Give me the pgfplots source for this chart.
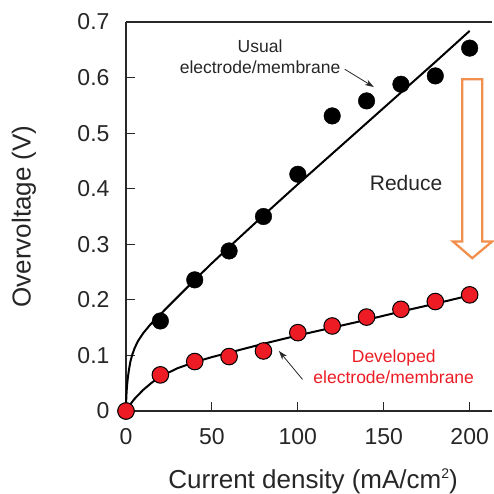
\documentclass[border=0pt]{standalone}
\usepackage{fontspec}
\setmainfont{Liberation Sans}
\usepackage{pgfplots}
\pgfplotsset{compat=1.18}
\usetikzlibrary{arrows.meta}

\definecolor{dotred}{RGB}{237,28,36}
\definecolor{reduceorange}{RGB}{242,143,76}
\definecolor{axisgray}{RGB}{40,40,40}

\begin{document}
\begin{tikzpicture}
\useasboundingbox (-126pt,-83pt) rectangle (367pt,411pt);
\begin{axis}[
  scale only axis, width=366pt, height=389pt,
  xmin=0, xmax=213, ymin=0, ymax=0.7,
  axis lines=left, axis line style={-, axisgray, line width=1.2pt},
  tick align=inside, major tick length=9pt,
  tick style={axisgray, line width=1.1pt},
  xtick={0,50,100,150,200}, ytick={0,0.1,0.2,0.3,0.4,0.5,0.6,0.7},
  yticklabel style={/pgf/number format/fixed, /pgf/number format/precision=1, xshift=-13pt},
  xticklabel style={yshift=-14pt},
  /pgf/number format/assume math mode=true,
  tick label style={font=\fontsize{23}{27}\selectfont, text=black!85},
  label style={font=\fontsize{26}{30}\selectfont, text=black!85},
  xlabel={Current density (mA/cm\raisebox{0.75ex}{\fontsize{14}{14}\selectfont 2})},
  ylabel={Overvoltage (V)},
  xlabel style={at={(axis description cs:0.511,-0.199)}, anchor=base},
  ylabel style={at={(axis description cs:-0.279,0.5)}, anchor=center, rotate=0},
  clip=false,
]
% fitted curves
\addplot[black, line width=2pt] coordinates {
  (0,0)(0.05,0.012)(0.2,0.026)(0.5,0.042)(1,0.058)(1.7,0.074)(2.5,0.088)
  (3.5,0.100)(5,0.113)(7,0.126)(10,0.140)(14,0.155)(20,0.174)(30,0.205)
  (40,0.236)(50,0.266)(60,0.295)(80,0.352)(100,0.408)(120,0.463)(140,0.518)
  (160,0.573)(180,0.628)(200,0.684)};
\addplot[black, line width=2pt] coordinates {
  (0,0)(2,0.010)(5,0.022)(10,0.038)(15,0.051)(20,0.062)(30,0.077)(40,0.088)
  (50,0.097)(60,0.105)(70,0.113)(80,0.121)(100,0.136)(120,0.150)(140,0.164)
  (160,0.179)(180,0.193)(200,0.208)};
% measured points
\addplot[only marks, mark=*, mark size=8.3pt, black] coordinates {
  (0,0)(20,0.162)(40,0.236)(60,0.288)(80,0.350)(100,0.426)(120,0.531)
  (140,0.558)(160,0.588)(180,0.603)(200,0.653)};
\addplot[only marks, mark=*, mark size=8.3pt, mark options={fill=dotred, draw=black, line width=1pt}] coordinates {
  (0,0)(20,0.065)(40,0.089)(60,0.098)(80,0.108)(100,0.141)(120,0.153)
  (140,0.169)(160,0.183)(180,0.197)(200,0.209)};
% top spine
\draw[axisgray, line width=1.2pt] (rel axis cs:0,1) -- (rel axis cs:1,1);
% annotations
\node[align=center, font=\fontsize{17.5}{21}\selectfont, text=black!85] at (axis cs:78,0.637) {Usual\\electrode/membrane};
\draw[-{Stealth[length=9pt,width=6pt]}, line width=0.8pt, black!85] (axis cs:127.3,0.615) -- (axis cs:144.2,0.583);
\node[font=\fontsize{17.5}{21}\selectfont, text=dotred, align=center] at (axis cs:155.8,0.079) {Developed\\electrode/membrane};
\draw[-{Stealth[length=9pt,width=6pt]}, line width=0.8pt, black!85] (axis cs:102.7,0.057) -- (axis cs:89,0.108);
\node[font=\fontsize{21}{25}\selectfont, text=black!85] at (axis cs:163,0.41) {Reduce};
\draw[reduceorange, line width=2.3pt, line join=miter]
  (axis cs:195.7,0.597) -- (axis cs:207.3,0.597) -- (axis cs:207.3,0.305) --
  (axis cs:213.1,0.305) -- (axis cs:201.5,0.275) -- (axis cs:190.3,0.305) --
  (axis cs:195.7,0.305) -- cycle;
\end{axis}
\end{tikzpicture}
\end{document}
